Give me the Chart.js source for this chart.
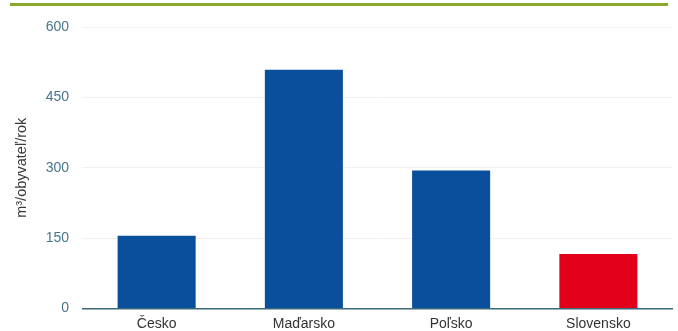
<!DOCTYPE html>
<html>
<head>
<meta charset="utf-8">
<script src="https://cdn.jsdelivr.net/npm/chart.js@4/dist/chart.umd.min.js"></script>
<style>
  html, body { margin: 0; padding: 0; background: #fff; }
  #wrap { position: relative; width: 678px; height: 331px; }
</style>
</head>
<body>
<div id="wrap"><canvas id="graf"></canvas></div>
<script>
const krajiny = ["Česko", "Maďarsko", "Poľsko", "Slovensko"],
  hodnoty = [155, 509, 294, 116],
  farby = ["#0a4f9b", "#0a4f9b", "#0a4f9b", "#e2001a"],
  yTicks = [0, 150, 300, 450, 600];

// zelená linka hore
const zelenaLinka = {
  id: "zelenaLinka",
  beforeDraw(chart) {
    const c = chart.ctx;
    c.save();
    c.fillStyle = "#8aa82a";
    c.fillRect(10, 3, 658, 3);
    c.restore();
  },
};

new Chart(document.getElementById("graf"), {
  type: "bar",
  data: {
    labels: krajiny,
    datasets: [
      {
        data: hodnoty,
        backgroundColor: farby,
        borderWidth: 0,
        barPercentage: 0.53,
        categoryPercentage: 1,
      },
    ],
  },
  options: {
    responsive: true,
    maintainAspectRatio: false,
    animation: false,
    layout: { padding: { top: 27, right: 6, left: 0, bottom: 0 } },
    plugins: { legend: { display: false }, tooltip: { enabled: false } },
    scales: {
      x: {
        grid: { display: false, drawTicks: false },
        border: { color: "#3d6878", width: 1.5 },
        ticks: {
          color: "#333",
          font: { family: "Liberation Sans", size: 14 },
          padding: 7,
        },
        afterFit(s) { s.height = 22.5; },
      },
      y: {
        min: 0,
        max: 600,
        afterBuildTicks(s) { s.ticks = yTicks.map((v) => ({ value: v })); },
        grid: { color: "#eef0f5", drawTicks: false },
        border: { display: false },
        ticks: {
          color: "#47768b",
          font: { family: "Liberation Sans", size: 14 },
          padding: 14,
        },
        title: {
          display: true,
          text: "m³/obyvateľ/rok",
          color: "#3a3a3a",
          font: { family: "Liberation Sans", size: 14.5 },
          padding: { top: 13, bottom: 0 },
        },
        afterFit(s) { s.width = 83; },
      },
    },
  },
  plugins: [zelenaLinka],
});
</script>
</body>
</html>
